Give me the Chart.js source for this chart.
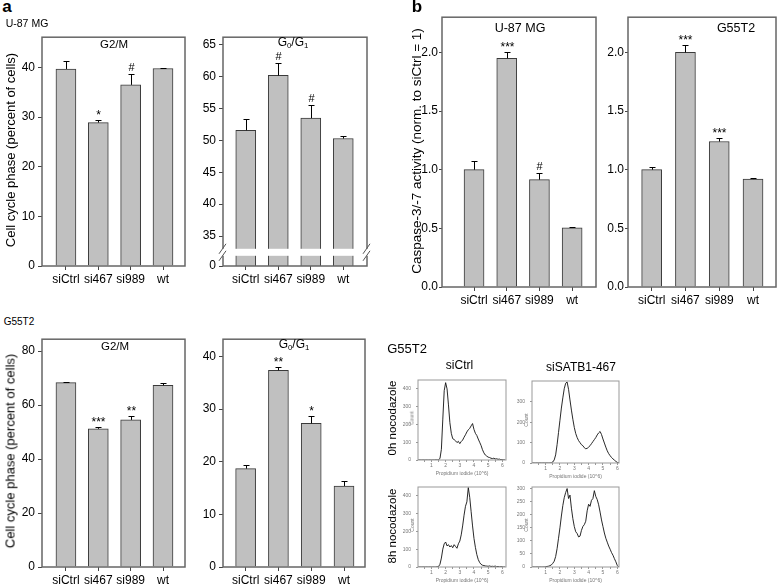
<!DOCTYPE html>
<html>
<head>
<meta charset="utf-8">
<script src="https://cdn.jsdelivr.net/npm/chart.js@4.4.1/dist/chart.umd.min.js"></script>
<style>
  body { margin: 0; background: #fff; }
  #fig { position: relative; width: 778px; height: 587px; overflow: hidden; font-family: "Liberation Sans", Arial, Helvetica, sans-serif; color: #000; }
  .sub { font-size: 65%; vertical-align: -0.25em; }
</style>
</head>
<body>
<div id="fig"></div>
<script>
// ---- data ----
const groups = ["siCtrl", "si467", "si989", "wt"];

const u87G2M = [39.7, 28.9, 36.5, 39.8];
const u87G2MErr = [1.6, 0.5, 2.1, 0.1];
const u87G2MSig = ["", "*", "#", ""];
const u87G2MTicks = [0, 10, 20, 30, 40];

const u87G01 = [51.6, 60.2, 53.5, 50.3];
const u87G01Err = [1.7, 2.0, 2.0, 0.4];
const u87G01Sig = ["", "#", "#", ""];
const u87G01Floor = 30.3; // shown as "0" below the axis break
const u87G01Ticks = [35, 40, 45, 50, 55, 60, 65];
const u87G01Break = [31.9, 33.0];

const g55G2M = [68.3, 51.2, 54.5, 67.3];
const g55G2MErr = [0.2, 0.5, 1.5, 0.9];
const g55G2MSig = ["", "***", "**", ""];
const g55G2MTicks = [0, 20, 40, 60, 80];

const g55G01 = [18.7, 37.4, 27.3, 15.4];
const g55G01Err = [0.7, 0.7, 1.4, 0.9];
const g55G01Sig = ["", "**", "*", ""];
const g55G01Ticks = [0, 10, 20, 30, 40];

const u87Casp = [1.0, 1.95, 0.915, 0.505];
const u87CaspErr = [0.07, 0.05, 0.055, 0.006];
const u87CaspSig = ["", "***", "#", ""];
const g55Casp = [1.0, 2.0, 1.24, 0.92];
const g55CaspErr = [0.02, 0.06, 0.03, 0.012];
const g55CaspSig = ["", "***", "***", ""];
const caspTicks = [0, 0.5, 1.0, 1.5, 2.0];

// flow cytometry histograms (propidium iodide, 10^6)
const piBins = [0.0, 0.1, 0.2, 0.3, 0.4, 0.5, 0.6, 0.7, 0.8, 0.9,
  1.0, 1.1, 1.2, 1.3, 1.4, 1.5, 1.6, 1.7, 1.8, 1.9,
  2.0, 2.1, 2.2, 2.3, 2.4, 2.5, 2.6, 2.7, 2.8, 2.9,
  3.0, 3.1, 3.2, 3.3, 3.4, 3.5, 3.6, 3.7, 3.8, 3.9,
  4.0, 4.1, 4.2, 4.3, 4.4, 4.5, 4.6, 4.7, 4.8, 4.9,
  5.0, 5.1, 5.2, 5.3, 5.4, 5.5, 5.6, 5.7, 5.8, 5.9,
  6.0, 6.1, 6.2];
const piTicks = [0.5, 1, 1.5, 2, 2.5, 3, 3.5, 4, 4.5, 5, 5.5, 6];

const ctrl0h = [0, 0, 0, 0, 0, 0, 0, 0, 0, 0,
  0, 0, 0, 1, 0, 2, 8, 60, 230, 390,
  435, 400, 310, 210, 150, 120, 115, 108, 98, 105,
  92, 104, 112, 128, 142, 158, 170, 178, 192, 205,
  172, 150, 138, 118, 100, 82, 58, 40, 28, 22,
  16, 14, 10, 8, 10, 6, 7, 4, 5, 2,
  2, 1, 0];
const satb0h = [0, 0, 0, 0, 0, 0, 0, 0, 0, 0,
  0, 0, 0, 0, 1, 5, 15, 40, 90, 150,
  210, 270, 320, 365, 392, 398, 362, 310, 260, 215,
  175, 145, 125, 110, 100, 90, 85, 75, 70, 72,
  78, 85, 95, 105, 115, 125, 138, 148, 155, 140,
  118, 98, 78, 60, 46, 36, 27, 20, 14, 8,
  3, 1, 0];
const ctrl8h = [0, 0, 0, 0, 0, 0, 0, 0, 0, 0,
  0, 0, 0, 0, 1, 3, 15, 50, 100, 130,
  140, 118, 125, 112, 120, 108, 125, 115, 105, 130,
  145, 180, 230, 290, 340, 365, 445, 390, 310, 230,
  160, 110, 70, 42, 25, 15, 10, 8, 6, 5,
  4, 6, 3, 4, 3, 5, 2, 3, 1, 2,
  1, 0, 0];
const satb8h = [0, 0, 0, 0, 0, 0, 0, 0, 0, 0,
  1, 2, 3, 5, 8, 14, 22, 40, 70, 110,
  150, 195, 235, 265, 285, 300, 262, 275, 225, 185,
  155, 135, 128, 115, 118, 140, 155, 162, 175, 215,
  240, 232, 255, 262, 292, 270, 258, 238, 210, 180,
  155, 130, 110, 95, 80, 68, 55, 45, 32, 20,
  6, 0, 0];

// ---- setup ----
const FONT = '"Liberation Sans", Arial, Helvetica, sans-serif';
Chart.defaults.font.family = FONT;
Chart.defaults.color = '#000';
const fig = document.getElementById('fig');

function addCanvas(left, top, w, h) {
  const c = document.createElement('canvas');
  c.width = w; c.height = h;
  c.style.cssText = `position:absolute;left:${left}px;top:${top}px;width:${w}px;height:${h}px`;
  fig.appendChild(c);
  return c;
}

function addText(html, x, y, size, extra = {}) {
  const d = document.createElement('div');
  d.innerHTML = html;
  d.style.cssText = `position:absolute;left:${x}px;top:${y}px;font-size:${size}px;line-height:1;white-space:nowrap;` +
    `transform:translate(-50%,-50%)${extra.rot ? ' rotate(-90deg)' : ''};` +
    (extra.bold ? 'font-weight:bold;' : '') + (extra.color ? `color:${extra.color};` : '');
  fig.appendChild(d);
}

// box, error bars, significance marks, axis break
const panelPlugin = {
  id: 'panel',
  afterDatasetsDraw(chart, args, o) {
    if (!o.errs) return;
    const ctx = chart.ctx, ys = chart.scales.y;
    const pts = chart.data.datasets[0].data;
    ctx.save();
    ctx.strokeStyle = '#000'; ctx.fillStyle = '#000'; ctx.lineWidth = 1;
    ctx.textAlign = 'center'; ctx.textBaseline = 'alphabetic';
    chart.getDatasetMeta(0).data.forEach((bar, i) => {
      const x = Math.round(bar.x) + 0.5;
      const top = Math.round(ys.getPixelForValue(pts[i].y + o.errs[i])) + 0.5;
      ctx.beginPath();
      ctx.moveTo(x, bar.y); ctx.lineTo(x, top);
      ctx.moveTo(x - 3, top); ctx.lineTo(x + 3, top);
      ctx.stroke();
      const s = o.sig[i];
      if (s) {
        ctx.font = (s[0] === '#' ? '11px ' : '12px ') + FONT;
        ctx.fillText(s, x, top - (s[0] === '#' ? 4 : 2));
      }
    });
    ctx.restore();
  },
  afterDraw(chart, args, o) {
    const { ctx, chartArea: a } = chart;
    ctx.save();
    ctx.strokeStyle = o.boxColor || '#666';
    ctx.lineWidth = o.boxWidth || 1.5;
    ctx.strokeRect(a.left, a.top, a.right - a.left, a.bottom - a.top);
    if (o.brk) {
      const ys = chart.scales.y;
      const y1 = ys.getPixelForValue(o.brk[1]), y2 = ys.getPixelForValue(o.brk[0]);
      ctx.fillStyle = '#fff';
      ctx.fillRect(a.left - 3, y1, a.right - a.left + 6, y2 - y1);
      ctx.strokeStyle = '#555'; ctx.lineWidth = 1;
      [a.left, a.right].forEach(x => {
        [y1, y2].forEach(yy => {
          ctx.beginPath(); ctx.moveTo(x - 4, yy + 5); ctx.lineTo(x + 3, yy - 5); ctx.stroke();
        });
      });
    }
    ctx.restore();
  }
};

function barPanel(p) {
  const yW = 46, xH = 30, pad = 6;
  const w = p.box.r - p.box.l + yW + pad, h = p.box.b - p.box.t + pad + xH;
  const cv = addCanvas(p.box.l - yW, p.box.t - pad, w, h);
  new Chart(cv, {
    type: 'bar',
    data: {
      datasets: [{
        data: p.values.map((v, i) => ({ x: i, y: v })),
        backgroundColor: '#c0c0c0',
        borderColor: '#3a3a3a',
        borderWidth: 1,
        barThickness: 20
      }]
    },
    options: {
      responsive: false,
      animation: false,
      layout: { padding: { top: pad, right: pad, left: 0, bottom: 0 } },
      plugins: {
        legend: { display: false },
        tooltip: { enabled: false },
        panel: { errs: p.errs, sig: p.sig, brk: p.brk }
      },
      scales: {
        x: {
          type: 'linear', min: p.xr[0], max: p.xr[1], offset: false,
          afterBuildTicks: s => { s.ticks = groups.map((g, i) => ({ value: i })); },
          afterFit: s => { s.height = xH; },
          ticks: { callback: v => groups[v], font: { size: 12 }, padding: 2, maxRotation: 0, autoSkip: false },
          grid: { drawOnChartArea: false, tickLength: 4, color: '#444', offset: false },
          border: { display: false }
        },
        y: {
          min: p.yr[0], max: p.yr[1],
          afterBuildTicks: s => { s.ticks = p.ticks.map(v => ({ value: v })); },
          afterFit: s => { s.width = yW; },
          ticks: { callback: p.fmt || (v => v), font: { size: 12 }, padding: p.tickPad ?? 3, autoSkip: false },
          grid: { drawOnChartArea: false, tickLength: p.tickLen ?? 4, color: '#444' },
          border: { display: false }
        }
      }
    },
    plugins: [panelPlugin]
  });
}

function histPanel(p) {
  const yW = 24, xH = 17, pad = 4;
  const w = p.box.r - p.box.l + yW + pad, h = p.box.b - p.box.t + pad + xH;
  const cv = addCanvas(p.box.l - yW, p.box.t - pad, w, h);
  new Chart(cv, {
    type: 'line',
    data: {
      datasets: [{
        data: piBins.map((x, i) => ({ x, y: p.counts[i] })),
        borderColor: '#111', borderWidth: 0.9, pointRadius: 0, tension: 0, fill: false
      }]
    },
    options: {
      responsive: false,
      animation: false,
      layout: { padding: { top: pad, right: pad, left: 0, bottom: 0 } },
      plugins: {
        legend: { display: false },
        tooltip: { enabled: false },
        panel: { boxColor: '#999', boxWidth: 1 }
      },
      scales: {
        x: {
          type: 'linear', min: p.xr[0], max: p.xr[1],
          afterBuildTicks: s => { s.ticks = piTicks.map(v => ({ value: v })); },
          afterFit: s => { s.height = xH; },
          ticks: { callback: v => Number.isInteger(v) ? v : '', font: { size: 5 }, color: '#777', padding: 1, maxRotation: 0, autoSkip: false },
          grid: { drawOnChartArea: false, tickLength: 2, color: '#999' },
          border: { display: false },
          title: { display: true, text: 'Propidium iodide (10^6)', font: { size: 5 }, color: '#777', padding: { top: 2, bottom: 0 } }
        },
        y: {
          min: 0, max: p.yMax,
          afterBuildTicks: s => { s.ticks = p.ticks.map(v => ({ value: v })); },
          afterFit: s => { s.width = yW; },
          ticks: { font: { size: 5 }, color: '#777', padding: 5, autoSkip: false },
          grid: { drawOnChartArea: false, tickLength: 2, color: '#999' },
          border: { display: false }
        }
      }
    },
    plugins: [panelPlugin]
  });
  addText('Count', p.box.l - 6, (p.box.t + p.box.b) / 2, 5, { rot: true, color: '#777' });
}

// ---- panel a ----
barPanel({ box: { l: 42, t: 33, r: 185, b: 266 }, xr: [-0.74, 3.68], yr: [0, 46.1],
  values: u87G2M, errs: u87G2MErr, sig: u87G2MSig, ticks: u87G2MTicks });
barPanel({ box: { l: 223, t: 33, r: 367, b: 266 }, xr: [-0.7, 3.73], yr: [u87G01Floor, 66.2],
  values: u87G01, errs: u87G01Err, sig: u87G01Sig, ticks: [u87G01Floor, ...u87G01Ticks],
  fmt: v => v < u87G01Ticks[0] ? '0' : v, brk: u87G01Break });
barPanel({ box: { l: 42, t: 335, r: 185, b: 567 }, xr: [-0.74, 3.68], yr: [0, 84.4],
  values: g55G2M, errs: g55G2MErr, sig: g55G2MSig, ticks: g55G2MTicks });
barPanel({ box: { l: 223, t: 335, r: 365, b: 567 }, xr: [-0.69, 3.64], yr: [0, 43.3],
  values: g55G01, errs: g55G01Err, sig: g55G01Sig, ticks: g55G01Ticks });

// ---- panel b ----
barPanel({ box: { l: 442, t: 15, r: 596, b: 287 }, xr: [-0.98, 3.73], yr: [0, 2.3],
  values: u87Casp, errs: u87CaspErr, sig: u87CaspSig, ticks: caspTicks, fmt: v => v.toFixed(1),
  tickLen: 3, tickPad: 1 });
barPanel({ box: { l: 628, t: 15, r: 776, b: 287 }, xr: [-0.7, 3.68], yr: [0, 2.3],
  values: g55Casp, errs: g55CaspErr, sig: g55CaspSig, ticks: caspTicks, fmt: v => v.toFixed(1),
  tickLen: 3, tickPad: 1 });

// ---- histograms ----
histPanel({ box: { l: 418, t: 376, r: 506, b: 460 }, xr: [0.05, 6.26], yMax: 450, ticks: [0, 100, 200, 300, 400], counts: ctrl0h });
histPanel({ box: { l: 532, t: 377, r: 619, b: 463 }, xr: [0.05, 6.12], yMax: 403, ticks: [0, 100, 200, 300], counts: satb0h });
histPanel({ box: { l: 418, t: 483, r: 506, b: 567 }, xr: [0.05, 6.26], yMax: 448, ticks: [0, 100, 200, 300, 400], counts: ctrl8h });
histPanel({ box: { l: 532, t: 483, r: 619, b: 567 }, xr: [0.05, 6.12], yMax: 306, ticks: [0, 50, 100, 150, 200, 250, 300], counts: satb8h });

// ---- text ----
addText('a', 7, 6, 17, { bold: true });
addText('b', 417, 6, 17, { bold: true });
addText('U-87 MG', 27, 22.5, 10.5);
addText('G55T2', 19, 322, 10);
addText('Cell cycle phase (percent of cells)', 9.5, 150, 13, { rot: true });
addText('Cell cycle phase (percent of cells)', 9.5, 451, 13, { rot: true });
addText('Caspase-3/-7 activity (norm. to siCtrl = 1)', 417, 151, 13.5, { rot: true });

addText('G2/M', 114, 45, 11.5);
addText('G<span class="sub">0</span>/G<span class="sub">1</span>', 293, 43, 12);
addText('G2/M', 115, 347, 11.5);
addText('G<span class="sub">0</span>/G<span class="sub">1</span>', 294, 345, 12);
addText('U-87 MG', 520, 28, 12.5);
addText('G55T2', 736, 28, 12.5);

addText('G55T2', 407, 348, 13);
addText('siCtrl', 459.5, 365, 12);
addText('siSATB1-467', 581, 367, 12);
addText('0h nocodazole', 393, 418, 11.5, { rot: true });
addText('8h nocodazole', 393, 526, 11.5, { rot: true });
</script>
</body>
</html>
